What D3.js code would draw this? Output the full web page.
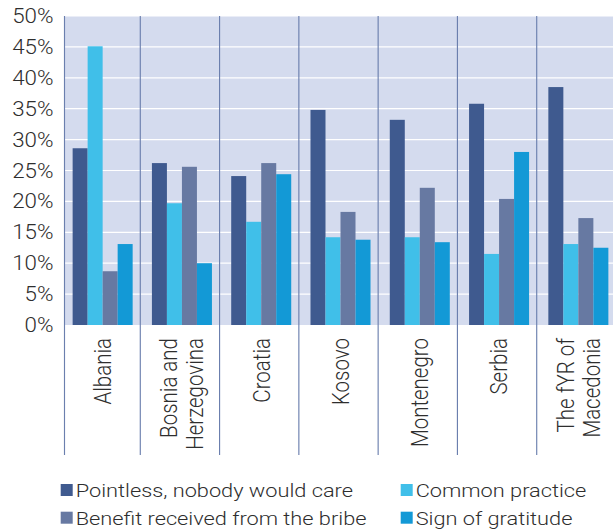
<!DOCTYPE html>
<html>
<head>
<meta charset="utf-8">
<script src="https://cdn.jsdelivr.net/npm/d3@7"></script>
<style>
  body { margin: 0; background: #fff; }
  svg text { font-family: Roboto, "Liberation Sans", sans-serif; font-weight: 300; fill: #2e2e2e; }
</style>
</head>
<body>
<div class="chart"></div>
<script>
// countries (x categories), two-line labels split with |
var countries = ["Albania", "Bosnia and|Herzegovina", "Croatia", "Kosovo", "Montenegro", "Serbia", "The fYR of|Macedonia"]
var seriesNames = ["Pointless, nobody would care", "Common practice", "Benefit received from the bribe", "Sign of gratitude"]
var seriesColours = ["#3f5a8f", "#40bfe9", "#6779a2", "#1399d6"]

// values in %, one array per series, same order as countries
var pointless = [28.6, 26.2, 24.1, 34.8, 33.2, 35.8, 38.5]
var commonPractice = [45.1, 19.7, 16.7, 14.2, 14.2, 11.5, 13.1]
var benefit = [8.7, 25.6, 26.2, 18.3, 22.2, 20.4, 17.3]
var gratitude = [13.1, 10.0, 24.4, 13.8, 13.4, 28.0, 12.5]

var yTicks = [0, 5, 10, 15, 20, 25, 30, 35, 40, 45, 50]

var series = [pointless, commonPractice, benefit, gratitude]

// the original is a bit stretched sideways, so draw in a narrower box and let the svg stretch it
var sx = 1.14
var width = 613, height = 532
var iw = width / sx

var svg = d3.select(".chart").append("svg")
    .attr("width", width).attr("height", height)
    .attr("viewBox", "0 0 " + iw + " " + height)
    .attr("preserveAspectRatio", "none")

var plotTop = 16, plotBottom = 325, sepBottom = 455
var plotLeft = 64.5 / sx

var x = d3.scaleBand()
    .domain(countries)
    .range([63 / sx, 618 / sx])
    .paddingInner(0.243)
    .paddingOuter(0.1215)

var xs = d3.scaleBand()
    .domain(d3.range(series.length))
    .range([0, x.bandwidth()])

var y = d3.scaleLinear().domain([0, 50]).range([plotBottom, plotTop])

// plot background
svg.append("rect")
    .attr("x", plotLeft).attr("y", y(50))
    .attr("width", iw - plotLeft).attr("height", y(0) - y(50))
    .attr("fill", "#d4dbee")

// gridlines
svg.append("g").selectAll("line")
    .data(yTicks.filter(t => t > 0))
    .enter().append("line")
    .attr("x1", plotLeft).attr("x2", iw)
    .attr("y1", d => y(d)).attr("y2", d => y(d))
    .attr("stroke", "#fff").attr("stroke-width", 1.2)

// bars
var groups = svg.append("g").selectAll("g")
    .data(countries)
    .enter().append("g")
    .attr("transform", d => "translate(" + x(d) + ",0)")

groups.selectAll("rect")
    .data((d, ci) => series.map((s, si) => ({ si: si, v: s[ci] })))
    .enter().append("rect")
    .attr("x", d => xs(d.si))
    .attr("width", xs.bandwidth())
    .attr("y", d => y(d.v))
    .attr("height", d => y(0) - y(d.v))
    .attr("fill", d => seriesColours[d.si])

// category separators (incl. the left axis line)
var step = x.step()
var seps = countries.map((c, i) => i == 0 ? plotLeft : x(c) - x.paddingInner() * step / 2 - 2 / sx)
svg.append("g").selectAll("line")
    .data(seps)
    .enter().append("line")
    .attr("x1", d => d).attr("x2", d => d)
    .attr("y1", plotTop).attr("y2", sepBottom)
    .attr("stroke", "#6b7fae").attr("stroke-width", 1)

// y axis labels
svg.append("g").selectAll("text")
    .data(yTicks)
    .enter().append("text")
    .attr("x", 53.5 / sx)
    .attr("y", d => y(d))
    .attr("dy", "0.36em")
    .attr("text-anchor", "end")
    .style("font-size", "19.6px")
    .text(d => d + "%")

// x labels, rotated
var xl = svg.append("g").selectAll("text")
    .data(countries)
    .enter().append("text")
    .attr("transform", d => "translate(" + (x(d) + x.bandwidth() / 2) + ",338) rotate(-90)")
    .attr("text-anchor", "end")
    .style("font-size", "20.5px")

xl.selectAll("tspan")
    .data(d => d.split("|").map((t, i, arr) => ({ t: t, off: (i - (arr.length - 1) / 2) * 1.1 })))
    .enter().append("tspan")
    .attr("x", 0)
    .attr("y", 0)
    .attr("dy", d => (d.off + 0.36) + "em")
    .text(d => d.t)

// legend
var legendCols = [60.7 / sx, 400.7 / sx]
var legendRows = [497.3, 525]
var leg = svg.append("g").selectAll("g")
    .data(seriesNames)
    .enter().append("g")
    .attr("transform", (d, i) => "translate(" + legendCols[i % 2] + "," + legendRows[Math.floor(i / 2)] + ")")

leg.append("rect")
    .attr("x", 0).attr("y", -13.3)
    .attr("width", 12 / sx).attr("height", 12)
    .attr("fill", (d, i) => seriesColours[i])

leg.append("text")
    .attr("x", 15 / sx)
    .attr("y", 0)
    .style("font-size", "19.1px")
    .text(d => d)
</script>
</body>
</html>
